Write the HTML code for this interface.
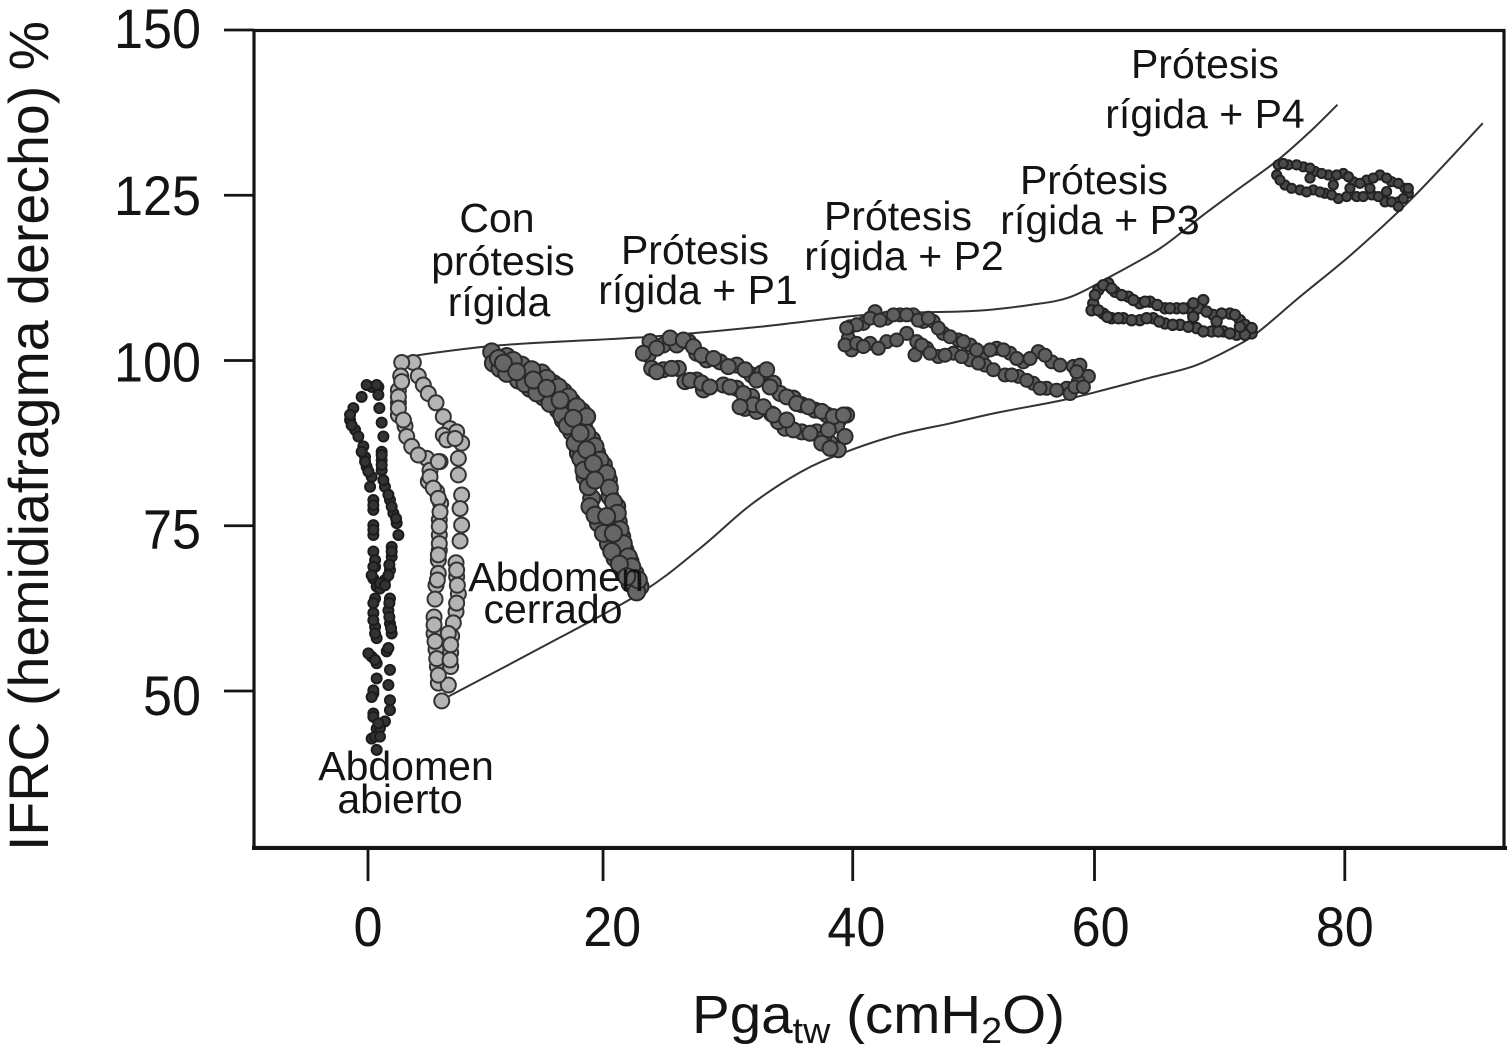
<!DOCTYPE html>
<html lang="es">
<head>
<meta charset="utf-8">
<title>IFRC vs Pga</title>
<style>
html,body{margin:0;padding:0;background:#fff;}
svg{display:block;}
text{font-family:"Liberation Sans",sans-serif;fill:#141414;}
.tick{font-size:56px;}
.note{font-size:41px;text-anchor:middle;}
</style>
</head>
<body>
<svg id="chart" xmlns="http://www.w3.org/2000/svg" width="1507" height="1062" viewBox="0 0 1507 1062">
  <rect x="0" y="0" width="1507" height="1062" fill="#fff"/>
  <g id="curves"></g>
  <g id="marks"></g>
  <g id="axes"></g>
  <rect x="254" y="30.5" width="1250" height="817" fill="none" stroke="#141414" stroke-width="3.2"/>
  <line x1="252" y1="848" x2="1507" y2="848" stroke="#141414" stroke-width="4"/>
  <text transform="translate(48,851) rotate(-90)" font-size="56" textLength="830" lengthAdjust="spacingAndGlyphs">IFRC (hemidiafragma derecho) %</text>
  <text x="692" y="1033" font-size="54" textLength="373" lengthAdjust="spacingAndGlyphs">Pga<tspan font-size="36" dy="10">tw</tspan><tspan dy="-10"> (cmH</tspan><tspan font-size="36" dy="10">2</tspan><tspan dy="-10">O)</tspan></text>
  <g>
    <text class="note" x="406" y="780">Abdomen</text>
    <text class="note" x="400" y="813">abierto</text>
    <text class="note" x="556" y="591">Abdomen</text>
    <text class="note" x="553" y="623">cerrado</text>
    <text class="note" x="497" y="232">Con</text>
    <text class="note" x="503" y="275">prótesis</text>
    <text class="note" x="499" y="316">rígida</text>
    <text class="note" x="695" y="264">Prótesis</text>
    <text class="note" x="698" y="304">rígida + P1</text>
    <text class="note" x="898" y="230">Prótesis</text>
    <text class="note" x="904" y="270">rígida + P2</text>
    <text class="note" x="1094" y="194">Prótesis</text>
    <text class="note" x="1100" y="234">rígida + P3</text>
    <text class="note" x="1205" y="78">Prótesis</text>
    <text class="note" x="1205" y="128">rígida + P4</text>
  </g>
</svg>
<script>
// Tick values as drawn in the source figure (x tick marks sit slightly off their labels)
const xTickMarks = [0, 19.25, 39.7, 59.5, 80];
const xTickValues = [0, 20, 40, 60, 80];
const xTickLabels = ["0", "20", "40", "60", "80"];
const yTickValues = [50, 75, 100, 125, 150];
const yTickLabels = ["50", "75", "100", "125", "150"];

// Envelope curves [Pga, IFRC]
const upperCurve = [[2.87,100.5],[10.81,102.3],[23.1,103.6],[32.1,105.1],[39.5,106.7],[43.6,107.2],[49.7,107.5],[54.2,108.4],[57.5,109.6],[61,112.9],[64.9,117],[68.4,122],[71.4,126.1],[74.5,130.3],[77.2,134.7],[79.4,138.7]];
const lowerCurve = [[6,48.6],[14.1,56.5],[22.3,64.8],[27.2,71.6],[31.3,78.1],[35.4,83.1],[38.9,86],[43.3,88.7],[47.7,90.5],[51.5,92.1],[56.9,94],[60.8,95.8],[64.05,97.4],[67.7,99.2],[70.8,101.9],[72.9,104.3],[76.3,109.6],[80.7,116.3],[85.6,124.7],[91.3,135.9]];

// Series points [Pga, IFRC]
const abdomenAbierto = [[0.3,96],[-0.52,94.5],[-1.2,92.8],[-1.47,91],[-1.06,89.5],[-0.79,88.5],[-0.38,87],[-0.24,85.4],[-0.11,83.9],[0.3,82.4],[0.17,80.9],[0.44,78.9],[0.44,77.4],[0.44,75.1],[0.44,73.6],[0.44,71.1],[0.58,68.8],[0.44,67],[0.71,65.8],[0.58,64],[0.44,61.8],[0.58,59.7],[0.71,58],[0.3,55.2],[0.71,54.2],[0.71,51.9],[0.44,49.6],[0.44,46.6],[0.71,44.3],[0.3,42.8],[0.71,41.1],
[0.85,96],[0.85,94.8],[0.93,92.8],[1.12,90.6],[1.26,88.5],[1.12,86.2],[1.12,84.9],[1.12,83.4],[1.39,80.9],[1.8,78.9],[2.08,76.9],[2.35,75.4],[2.49,73.6],[1.94,71.8],[1.94,70.3],[1.8,68.3],[1.39,66.8],[0.98,65.5],[1.8,64],[1.67,62.2],[1.8,60.2],[1.94,58.7],[1.53,56],[1.8,53.2],[1.67,50.9],[1.8,48.6],[1.8,47.1],[1.39,45.4],[0.98,44.4],
[0.44,78.1],[0.44,74.4],[0.58,69.8],[0.98,66.3],[0.44,63.3],[0.44,60.7],[0.58,58.7],[0.03,55.7],[0.58,54.7],[0.44,50.1],[0.3,49.1],[0.44,46.1],[0.85,45.1],[0.58,43.1],[0.98,43.1],[-0.11,96.3],[0.71,96.3],[-1.47,91.8],[-1.34,90.2],[-0.52,86.2],[-0.24,84.7],[0.03,83.2],[1.12,84.2],[1.12,85.7],[1.26,81.9],[1.67,79.7],[1.94,77.9],[2.3,76.1],[1.94,71.1],[1.75,69.1],[1.67,67.5],[1.39,66],[1.75,63.3],[1.75,61.2],[1.89,59.5],[1.67,56.5],[0.44,68.8],[0.3,67.5]];
const abdomenCerrado = [[3.71,99.7],[2.76,99.7],[2.68,97.65],[2.49,95.5],[2.49,93.6],[2.49,91.75],[3.03,90.1],[3.17,88.5],[3.58,87],[4.81,85.2],[5.08,83.4],[4.94,81.7],[5.63,80.15],[5.95,78.4],[5.84,75.9],[5.84,73.6],[5.84,71.3],[5.76,69.8],[5.76,67.8],[5.57,66],[5.49,63.9],[5.41,61.2],[5.41,58.7],[5.57,56.3],[5.68,53.7],[5.76,51.2],[6.04,48.5],
[4.12,97.65],[4.53,96.3],[4.94,95],[5.57,93.6],[6.17,91.5],[6.72,89.7],[7.26,89.2],[7.67,87.5],[7.4,85.2],[7.4,82.7],[7.67,79.65],[7.54,77.6],[7.67,75.1],[7.54,72.7],[7.21,69.4],[7.26,67.3],[7.4,64.7],[7.21,62],[6.99,60.3],[6.85,58.3],[6.77,55.8],[6.77,53.7],[6.58,50.9],[5.9,84.7],
[2.76,96.8],[2.49,94.5],[2.49,92.8],[2.9,91],[4.12,85.7],[5.76,84.7],[5.08,82.4],[5.35,80.7],[5.76,79.15],[5.9,77.1],[5.84,74.9],[5.84,72.3],[5.76,70.6],[5.68,66.8],[5.41,60],[5.49,57.5],[5.63,54.9],[5.76,52.4],[7.26,68.3],[7.32,66],[7.26,63.3],[6.58,58.7],[6.77,57],[6.72,54.7],[6.17,88.7],[6.45,88],[7.13,88.2]];
const protesisRigida = [[10.13,101.3],[11.36,100.6],[12.59,99.3],[14.23,98.1],[15.18,96.5],[16,95.3],[16.68,93.8],[17.5,92.3],[17.64,90.2],[18.32,88],[18.73,86],[19.28,84.2],[19.69,81.9],[19.82,79.4],[20.37,77.9],[20.5,75.6],[20.78,73.35],[21.05,71.3],[21.46,69.6],[21.87,67.8],[22.28,65.8],
[10.27,99.6],[10.81,98.8],[12.31,97.05],[13.27,95.8],[14.36,94.5],[15.59,92.5],[16,91],[16.68,89.2],[17.23,86],[17.64,84.4],[17.78,82.4],[18.32,79.15],[18.18,77.9],[18.87,75.4],[19.69,72.3],[20.23,70.1],[20.91,68.3],[21.46,66.3],[22,65],
[10.68,100.3],[11.9,100],[13.41,98.6],[14.64,97.3],[15.59,96],[16.41,94.5],[17.09,93],[17.91,91.5],[17.91,89],[18.59,87],[19,84.9],[19.55,82.9],[19.77,80.7],[20.1,78.6],[20.42,76.9],[20.64,74.4],[20.91,72.3],[21.32,70.3],[21.6,68.8],[22.14,66.8],
[11.36,98.06],[12.86,96.5],[13.82,95.1],[14.91,93.5],[15.86,91.75],[16.33,90.1],[16.96,87.5],[17.42,85.2],[17.69,83.4],[18.05,80.9],[18.59,76.6],[19.28,73.85],[19.96,71.1],[20.59,69.2],[21.19,67.3],
[11.09,99.6],[12.18,98.3],[13.54,97.05],[14.64,95.8],[15.73,94],[16.82,91.25],[17.37,89],[17.91,86.5],[18.46,84.4],[18.59,81.9],[19.55,76.4],[20.1,73.85]];
const protesisP1 = [[23.1,102.85],[24.19,102.35],[25.28,102.35],[26.24,102.85],[26.92,101.1],[27.74,100.1],[28.83,99.8],[30.2,99.3],[31.42,97.8],[32.24,98.1],[33.2,96.55],[33.75,95],[34.84,94.3],[35.52,93.3],[36.61,92.5],[37.57,91.8],[38.66,91.25],[39.2,91.75],[38.39,90.25],[39.07,88.5],[37.84,87.5],[38.52,86.5],
[22.96,100.85],[23.23,98.8],[24.19,98.6],[25.42,98.8],[25.96,96.8],[26.92,97.05],[27.47,95.55],[29.1,96.3],[30.2,95.8],[31.42,94.55],[30.88,92.75],[31.83,92.3],[33.06,91.9],[34.15,89.75],[35.52,89.2],[36.75,89.2],[37.3,88.2],
[22.55,101.1],[23.64,101.85],[24.74,103.4],[25.83,103.1],[26.65,102.1],[27.33,100.8],[28.3,100.3],[29.51,99.07],[30.88,98.6],[31.83,97.05],[32.65,98.6],[32.93,96],[34.29,94.5],[35.11,93.5],[36.07,93],[37.16,92.3],[38.11,91.5],[37.7,89.5],[38.93,91.75],
[23.64,98.3],[24.87,98.8],[26.37,97],[27.33,96.6],[28,96],[29.65,96],[30.74,95],[31.56,93.3],[30.47,93],[32.38,93],[33.61,90.75],[34.84,89.5],[36.2,89],[37.16,87.5],[37.84,86.7],[33.2,91.75],[34.29,91]];
const protesisP2 = [[39.48,105.1],[40.57,105.6],[41.53,107.4],[42.48,106.4],[43.57,106.9],[44.66,106.9],[45.48,105.9],[46.3,105.9],[47.12,104.1],[48.35,103.1],[49.31,102.35],[50.4,101.1],[51.49,101.85],[52.58,101.1],[53.67,99.8],[54.9,101.35],[56,99.8],[57.77,99.1],[59,97.6],
[39.34,103.35],[39.61,101.6],[41.12,102.6],[42.48,102.85],[44.12,104.1],[44.94,102.85],[45.76,101.85],[44.8,100.85],[46.71,100.6],[47.94,101.1],[49.31,100.1],[50.53,99.3],[52.17,97.8],[53.26,97.6],[54.49,96.55],[55.58,95.8],[57.22,95.8],[58.18,96.8],[57.5,95],
[40.02,105.4],[41.12,106.4],[41.93,106.1],[43.03,106.9],[44.12,106.9],[45.07,106.1],[45.89,106.4],[46.71,104.9],[47.67,103.6],[48.76,102.85],[49.85,101.6],[50.95,101.6],[52.04,101.6],[53.13,100.3],[54.22,100.3],[55.45,100.8],[56.68,99.3],[58.31,99.3],
[39.2,104.9],[39.07,102.35],[40.02,102.6],[40.57,102.1],[41.8,101.85],[43.3,103.1],[45.35,102.35],[46.03,101.1],[47.26,100.8],[48.62,100.6],[49.99,99.6],[51.22,98.6],[52.72,97.8],[53.95,97],[55.04,95.8],[56.4,95.5],[57.9,96],[58.59,96],[58.04,98.3]];
const protesisP3 = [[60.63,111.67],[61.18,110.4],[62.27,109.66],[63.22,108.65],[64.04,108.9],[65.27,107.9],[66.23,107.9],[67.18,107.9],[68.41,109.15],[68,107.9],[69.23,106.9],[70.59,107.1],[71.41,106.1],[72.1,104.6],
[59.81,110.67],[59.4,108.65],[60.22,107.1],[60.9,106.4],[61.86,106.4],[63.22,106.1],[64.3,106.4],[65.27,105.6],[66.5,105.4],[67.86,104.9],[69.09,104.4],[70.05,104.4],[71.14,103.9],[72.37,104.1],
[60.22,111.4],[60.9,110.9],[61.72,109.9],[62.68,109.15],[63.63,108.9],[64.64,108.4],[65.68,107.9],[66.77,107.9],[67.59,108.65],[68.68,107.4],[69.91,107.1],[71,106.9],[71.82,105.4],[72.37,104.9],
[59.54,109.9],[59.26,107.6],[59.81,107.6],[60.55,106.6],[61.45,106.4],[62.54,106.1],[63.77,106.4],[64.8,105.9],[65.9,105.4],[67.18,105.1],[68.41,104.4],[69.64,104.4],[70.59,104.1],[71.82,103.9],[67.59,106.6],[69.5,105.9],[71.41,105.1]];
const protesisP4 = [[74.55,129.6],[75.37,129.6],[76.6,129.3],[77.56,128.6],[78.65,128.06],[79.88,128.3],[80.7,127.05],[81.79,127.3],[82.88,128.06],[83.83,127.05],[84.93,126.05],
[74.42,128.06],[75.1,126.55],[76.33,125.8],[77.42,125.8],[78.37,125.3],[79.47,124.5],[80.97,124.8],[82.2,125.05],[83.29,124],[84.38,124],[85.2,125.3],
[74.96,129.8],[76.05,129.6],[77.15,129.1],[78.1,128.3],[79.33,128.06],[80.3,127.8],[81.24,126.8],[82.33,127.6],[83.42,127.6],[84.38,126.8],[85.2,126.05],
[74.69,127.3],[75.64,126.05],[76.87,125.5],[77.96,125.5],[78.92,125.05],[80.15,124.8],[81.51,124.8],[82.74,124.8],[83.83,124],[84.79,124.5],[84.38,123.3],[83.42,125.55],[82.06,126.05],[80.42,126.05],[79.06,126.55],[77.15,127.6]];

const NS = "http://www.w3.org/2000/svg";
function xScale(v){ return 368 + v * 12.21; }
function yScale(v){ return 30 + (150 - v) * 6.61; }
function yLabelBaseline(v){ return 48 + (150 - v) * 6.67; }

function smoothPath(points){
  const p = points.map(function(d){ return [xScale(d[0]), yScale(d[1])]; });
  let s = "M" + p[0][0] + " " + p[0][1];
  for (let i = 0; i < p.length - 1; i++){
    const a = p[Math.max(i - 1, 0)], b = p[i], c = p[i + 1], d = p[Math.min(i + 2, p.length - 1)];
    s += " C" + (b[0] + (c[0] - a[0]) / 6) + " " + (b[1] + (c[1] - a[1]) / 6) + " " +
         (c[0] - (d[0] - b[0]) / 6) + " " + (c[1] - (d[1] - b[1]) / 6) + " " + c[0] + " " + c[1];
  }
  return s;
}

const curvesG = document.getElementById("curves");
const upperPath = document.createElementNS(NS, "path");


upperPath.setAttribute("d", smoothPath(upperCurve));
upperPath.setAttribute("fill", "none");
upperPath.setAttribute("stroke", "#333");
upperPath.setAttribute("stroke-width", "2");
curvesG.appendChild(upperPath);
const lowerPath = document.createElementNS(NS, "path");


lowerPath.setAttribute("d", smoothPath(lowerCurve));
lowerPath.setAttribute("fill", "none");
lowerPath.setAttribute("stroke", "#333");
lowerPath.setAttribute("stroke-width", "2");
curvesG.appendChild(lowerPath);

function drawSeries(points, name, r, fill, stroke){
  const g = document.createElementNS(NS, "g");
  
  
  points.forEach(function(d){
    const c = document.createElementNS(NS, "circle");
    
    
    c.setAttribute("cx", xScale(d[0]));
    c.setAttribute("cy", yScale(d[1]));
    c.setAttribute("r", r);
    c.setAttribute("fill", fill);
    c.setAttribute("stroke", stroke);
    c.setAttribute("stroke-width", "2");
    g.appendChild(c);
  });
  document.getElementById("marks").appendChild(g);
}
drawSeries(abdomenAbierto, "series-abdomen-abierto", 5, "#333", "#1c1c1c");
drawSeries(abdomenCerrado, "series-abdomen-cerrado", 7.5, "#b4b4b4", "#333");
drawSeries(protesisRigida, "series-protesis-rigida", 8.5, "#666", "#2a2a2a");
drawSeries(protesisP1, "series-protesis-p1", 7.5, "#666", "#2a2a2a");
drawSeries(protesisP2, "series-protesis-p2", 6.5, "#5e5e5e", "#2a2a2a");
drawSeries(protesisP3, "series-protesis-p3", 5.2, "#505050", "#222");
drawSeries(protesisP4, "series-protesis-p4", 4.6, "#484848", "#222");

const axesG = document.getElementById("axes");
xTickMarks.forEach(function(v){
  const l = document.createElementNS(NS, "line");
  
  
  l.setAttribute("x1", xScale(v));
  l.setAttribute("x2", xScale(v));
  l.setAttribute("y1", 848);
  l.setAttribute("y2", 881);
  l.setAttribute("stroke", "#141414");
  l.setAttribute("stroke-width", "2.8");
  axesG.appendChild(l);
});
xTickValues.forEach(function(v, i){
  const t = document.createElementNS(NS, "text");
  
  
  t.setAttribute("class", "tick");
  t.setAttribute("x", xScale(v));
  t.setAttribute("y", 946);
  t.setAttribute("text-anchor", "middle");
  t.setAttribute("textLength", xTickLabels[i].length * 29);
  t.setAttribute("lengthAdjust", "spacingAndGlyphs");
  t.textContent = xTickLabels[i];
  axesG.appendChild(t);
});
yTickValues.forEach(function(v, i){
  const l = document.createElementNS(NS, "line");
  
  
  l.setAttribute("x1", 224);
  l.setAttribute("x2", 254);
  l.setAttribute("y1", yScale(v));
  l.setAttribute("y2", yScale(v));
  l.setAttribute("stroke", "#141414");
  l.setAttribute("stroke-width", "2.8");
  axesG.appendChild(l);
  const t = document.createElementNS(NS, "text");
  
  
  t.setAttribute("class", "tick");
  t.setAttribute("x", 201);
  t.setAttribute("y", yLabelBaseline(v));
  t.setAttribute("text-anchor", "end");
  t.setAttribute("textLength", yTickLabels[i].length * 29);
  t.setAttribute("lengthAdjust", "spacingAndGlyphs");
  t.textContent = yTickLabels[i];
  axesG.appendChild(t);
});
</script>
</body>
</html>
